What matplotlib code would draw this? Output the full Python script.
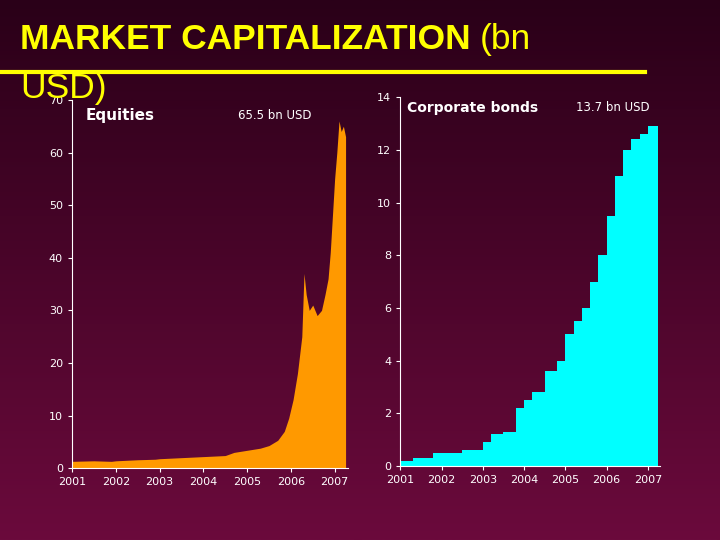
import matplotlib
matplotlib.use("Agg")
import matplotlib.pyplot as plt
import numpy as np
from matplotlib.colors import LinearSegmentedColormap

eq_t = [2001.0,2001.5,2001.9,2002.0,2002.5,2002.9,2003.0,2003.5,2004.0,2004.5,2004.7,2005.0,2005.3,2005.5,2005.7,2005.85,2005.95,2006.05,2006.15,2006.25,2006.3,2006.35,2006.42,2006.5,2006.6,2006.7,2006.78,2006.85,2006.9,2006.95,2007.0,2007.05,2007.1,2007.15,2007.2,2007.25]
eq_v = [1.3,1.4,1.3,1.4,1.6,1.7,1.8,2.0,2.2,2.4,3.0,3.4,3.8,4.3,5.3,7.0,9.5,13,18,25,37,33,30,31,29,30,33,36,41,48,55,60,66,64,65,63]
bd_t = [2001.0,2001.3,2001.8,2002.5,2003.0,2003.2,2003.5,2003.8,2004.0,2004.2,2004.5,2004.8,2005.0,2005.2,2005.4,2005.6,2005.8,2006.0,2006.2,2006.4,2006.6,2006.8,2007.0,2007.25]
bd_v = [0.2,0.3,0.5,0.6,0.9,1.2,1.3,2.2,2.5,2.8,3.6,4.0,5.0,5.5,6.0,7.0,8.0,9.5,11.0,12.0,12.4,12.6,12.9,13.1]
years = [2001,2002,2003,2004,2005,2006,2007]

fig = plt.figure(figsize=(7.2,5.4), dpi=100)
bg = fig.add_axes([0,0,1,1], zorder=-10)
grad = np.linspace(0,1,256).reshape(-1,1)
cm = LinearSegmentedColormap.from_list("g", ["#2a0018", "#6b0a3c"])
bg.imshow(grad, aspect="auto", cmap=cm, extent=[0,1,0,1], origin="upper")
bg.axis("off")

fs = 25.5
t1 = fig.text(0.028, 0.926, "MARKET CAPITALIZATION", color="#FFFF00", fontsize=fs, fontweight="bold",
              ha="left", va="center", family="Liberation Sans")
r = fig.canvas.get_renderer()
bb = t1.get_window_extent(r)
fig.text(bb.x1/720 + 0.012, 0.926, "(bn", color="#FFFF00", fontsize=fs, ha="left", va="center", family="Liberation Sans")
fig.text(0.028, 0.837, "USD)", color="#FFFF00", fontsize=fs, ha="left", va="center", family="Liberation Sans", zorder=5)
fig.add_artist(plt.Line2D([0,0.896],[0.867,0.867], color="#FFFF00", lw=3))

def style(ax):
    for s in ["top","right"]:
        ax.spines[s].set_visible(False)
    for s in ["left","bottom"]:
        ax.spines[s].set_color("white")
    ax.tick_params(colors="white", labelsize=8, length=3)
    ax.set_facecolor("none")
    ax.set_xticks(years)
    ax.set_xlim(2001, 2007.3)

ax1 = fig.add_axes([0.1, 0.133, 0.383, 0.682])
ax1.fill_between(eq_t, eq_v, color="#FF9900", lw=0)
ax1.set_ylim(0,70); ax1.set_yticks(range(0,71,10))
style(ax1)
ax1.text(2001.3, 67, "Equities", color="white", fontsize=11, fontweight="bold", va="center")
ax1.text(2004.8, 67, "65.5 bn USD", color="white", fontsize=8.5, va="center")

ax2 = fig.add_axes([0.556, 0.137, 0.361, 0.683])
ax2.fill_between(bd_t, bd_v, step="post", color="#00FFFF", lw=0)
ax2.set_ylim(0,14); ax2.set_yticks(range(0,15,2))
style(ax2)
ax2.text(2001.15, 13.6, "Corporate bonds", color="white", fontsize=10, fontweight="bold", va="center")
ax2.text(2005.25, 13.6, "13.7 bn USD", color="white", fontsize=8.5, va="center")
fig.savefig("out.png", dpi=100)
